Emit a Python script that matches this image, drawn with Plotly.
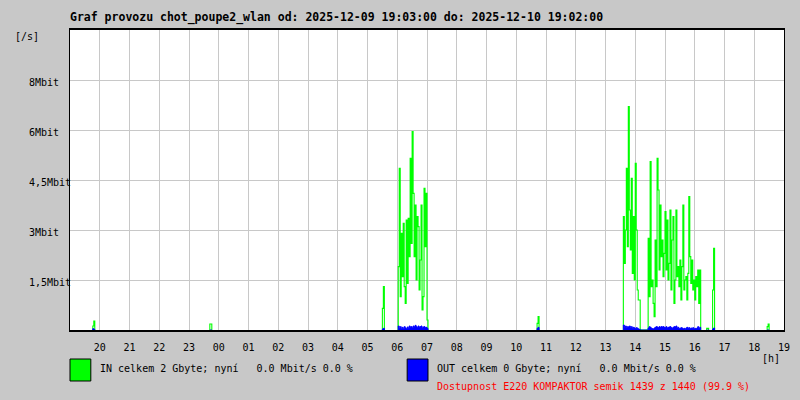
import pandas as pd
import plotly.graph_objects as go

TITLE = "Graf provozu chot_poupe2_wlan od: 2025-12-09 19:03:00 do: 2025-12-10 19:02:00"
DAY1 = "2025-12-09"
DAY2 = "2025-12-10"
RANGE_START = "2025-12-09 19:00"
RANGE_END = "2025-12-10 19:00"
SAMPLE = "2min"

HOUR_LABELS = ["20", "21", "22", "23", "00", "01", "02", "03", "04", "05", "06", "07",
               "08", "09", "10", "11", "12", "13", "14", "15", "16", "17", "18", "19"]
Y_TICKS = [1.5, 3, 4.5, 6, 7.5]
Y_LABELS = ["1,5Mbit", "3Mbit", "4,5Mbit", "6Mbit", "8Mbit"]
Y_MAX = 9

# traffic bursts in Mbit/s, 2-minute samples, (clock time of first sample)
B1_START = "19:46"
B1_IN = [0.12, 0.27]
B1_OUT = [0.04, 0.02]

B2_START = "23:42"
B2_IN = [0.18, 0.18]
B2_OUT = [0.0, 0.0]

B3_START = "05:30"
B3_IN = [0.65, 1.3]
B3_OUT = [0.03, 0.05]

B4_START = "06:02"
B4_IN = [1.9, 4.85, 1.0, 2.9, 1.6, 3.2, 1.3, 0.8, 3.3, 1.4, 3.35, 2.2, 5.15, 2.6, 5.95,
         4.1, 2.2, 3.75, 1.5, 3.4, 3.1, 1.2, 2.1, 3.75, 0.6, 1.0, 4.25, 2.5, 4.1, 0.3]
B4_OUT = [0.12, 0.05, 0.1, 0.03, 0.08, 0.04, 0.1, 0.06, 0.03, 0.09, 0.05, 0.12, 0.08, 0.1, 0.06,
          0.12, 0.09, 0.14, 0.1, 0.07, 0.12, 0.08, 0.1, 0.12, 0.06, 0.09, 0.1, 0.07, 0.08, 0.05]

B5_START = "10:42"
B5_IN = [0.2, 0.4]
B5_OUT = [0.05, 0.08]

B6_START = "13:36"
B6_IN = [3.4, 2.0, 3.0, 4.85, 2.5, 6.7, 3.6, 2.4, 4.55, 1.7, 3.4, 1.5, 5.0, 3.0, 1.2, 0.9, 0.9,
         0, 0, 0, 0, 0, 0, 0, 0,
         2.75, 1.0, 5.05, 1.3, 1.5, 0.8, 0.4, 2.7, 1.3, 5.15, 4.2, 1.8, 3.75, 2.2, 2.7,
         1.6, 2.3, 3.55, 1.8, 3.3, 1.5, 2.0, 3.6, 1.2, 2.7, 3.4, 0.8, 1.5, 3.6, 1.6,
         1.9, 1.3, 2.1, 0.9, 1.9, 3.75, 1.2, 1.5, 1.6, 0.9, 1.7, 4.0, 2.2, 1.4, 2.1,
         1.2, 1.5, 0.9, 1.6, 1.3, 1.8, 0.8, 1.8]
B6_OUT = [0.15, 0.08, 0.12, 0.06, 0.1, 0.09, 0.12, 0.07, 0.1, 0.05, 0.08, 0.06, 0.04, 0.07, 0.05, 0.03, 0.02,
          0, 0, 0, 0, 0, 0, 0, 0,
          0.06, 0.1, 0.08, 0.05, 0.04, 0.03, 0.06, 0.08, 0.1, 0.09, 0.07, 0.1, 0.08, 0.1, 0.09,
          0.1, 0.08, 0.07, 0.1, 0.06, 0.08, 0.09, 0.1, 0.07, 0.05, 0.08, 0.1, 0.09, 0.12, 0.06,
          0.08, 0.04, 0.05, 0.07, 0.06, 0.03, 0.05, 0.02, 0.06, 0.08, 0.05, 0.07, 0.04, 0.06, 0.05,
          0.07, 0.03, 0.05, 0.04, 0.06, 0.1, 0.05, 0.08]

B7_START = "16:24"
B7_IN = [0.05, 0.05]
B7_OUT = [0.0, 0.0]

B8_START = "16:36"
B8_IN = [1.2, 2.45]
B8_OUT = [0.03, 0.06]

B9_START = "18:26"
B9_IN = [0.1, 0.18]
B9_OUT = [0.0, 0.0]

BURSTS = [
    (B1_START, B1_IN, B1_OUT), (B2_START, B2_IN, B2_OUT), (B3_START, B3_IN, B3_OUT),
    (B4_START, B4_IN, B4_OUT), (B5_START, B5_IN, B5_OUT), (B6_START, B6_IN, B6_OUT),
    (B7_START, B7_IN, B7_OUT), (B8_START, B8_IN, B8_OUT), (B9_START, B9_IN, B9_OUT),
]

LEGEND_IN = "IN celkem 2 Gbyte; nyní\u00a0\u00a0\u00a00.0 Mbit/s 0.0 %"
LEGEND_OUT = "OUT celkem 0 Gbyte; nyní\u00a0\u00a0\u00a00.0 Mbit/s 0.0 %"
AVAIL = "Dostupnost E220 KOMPAKTOR semik 1439 z 1440 (99.9 %)"

IN_COLOR = "#00ff00"
OUT_COLOR = "#0000ff"
BG = "#c8c8c8"
GRID = "#c8c8c8"
FONT = "DejaVu Sans Mono"


def clock(hhmm):
    day = DAY1 if int(hhmm[:2]) >= 19 else DAY2
    return pd.Timestamp(f"{day} {hhmm}")


def series(index):
    xs, ys = [], []
    step = pd.Timedelta(SAMPLE)
    for start, vin, vout in BURSTS:
        vals = (vin, vout)[index]
        times = list(pd.date_range(clock(start), periods=len(vals), freq=SAMPLE))
        xs += [times[0]] + times + [times[-1] + step, None]
        ys += [0] + list(vals) + [0, None]
    return xs, ys


x_in, y_in = series(0)
x_out, y_out = series(1)

fig = go.Figure()
fig.add_trace(go.Scatter(x=x_in, y=y_in, mode="lines", line=dict(color=IN_COLOR, width=1.1, shape="hv"),
                         connectgaps=False, hoverinfo="skip"))
fig.add_trace(go.Scatter(x=x_out, y=y_out, mode="lines", line=dict(color=OUT_COLOR, width=1, shape="hv"),
                         fill="tozeroy", fillcolor=OUT_COLOR, connectgaps=False, hoverinfo="skip"))

tickvals = [pd.Timestamp(f"{DAY1 if int(h) >= 20 else DAY2} {h}:00") for h in HOUR_LABELS]

W, H = 800, 400
L, R, T, B = 70, 10, 30, 70
PW, PH = W - L - R, H - T - B


def px(xp):
    return (xp - L) / PW


def py(yp):
    return (T + PH - yp) / PH


annotations = []
for v, lab in zip(Y_TICKS, Y_LABELS):
    annotations.append(dict(text=lab, xref="paper", x=px(27), xanchor="left", yref="y", y=v,
                            yanchor="middle", yshift=-2, showarrow=False,
                            font=dict(family=FONT, size=10, color="black")))
annotations += [
    dict(text="[/s]", xref="paper", x=px(13), xanchor="left", yref="paper", y=py(37),
         yanchor="middle", showarrow=False, font=dict(family=FONT, size=10, color="black")),
    dict(text="[h]", xref="paper", x=px(766), xanchor="left", yref="paper", y=py(358),
         yanchor="middle", showarrow=False, font=dict(family=FONT, size=10, color="black")),
    dict(text=LEGEND_IN, xref="paper", x=px(98), xanchor="left", yref="paper", y=py(368),
         yanchor="middle", showarrow=False, font=dict(family=FONT, size=10, color="black")),
    dict(text=LEGEND_OUT, xref="paper", x=px(438), xanchor="left", yref="paper", y=py(368),
         yanchor="middle", showarrow=False, font=dict(family=FONT, size=10, color="black")),
    dict(text=AVAIL, xref="paper", x=px(438), xanchor="left", yref="paper", y=py(386),
         yanchor="middle", showarrow=False, font=dict(family=FONT, size=10, color="#ff0000")),
    dict(text=f"<b>{TITLE}</b>", xref="paper", x=px(68), xanchor="left", yref="paper", y=py(18),
         yanchor="middle", showarrow=False, font=dict(family=FONT, size=11.5, color="black")),
]

shapes = [
    dict(type="rect", xref="paper", yref="paper", x0=px(70), x1=px(91), y0=py(381), y1=py(359),
         fillcolor=IN_COLOR, line=dict(color="black", width=1)),
    dict(type="rect", xref="paper", yref="paper", x0=px(410), x1=px(431), y0=py(381), y1=py(359),
         fillcolor=OUT_COLOR, line=dict(color="black", width=1)),
]

fig.update_layout(
    width=W, height=H, margin=dict(l=L, r=R, t=T, b=B),
    paper_bgcolor=BG, plot_bgcolor="white", showlegend=False,
    annotations=annotations, shapes=shapes,
    xaxis=dict(type="date", range=[RANGE_START, RANGE_END], tickvals=tickvals, ticktext=HOUR_LABELS,
               showgrid=True, gridcolor=GRID, gridwidth=1, showline=True, linecolor="black",
               linewidth=2, mirror=True, ticks="", ticklabelstandoff=7, zeroline=False,
               tickfont=dict(family=FONT, size=10, color="black"), fixedrange=True),
    yaxis=dict(range=[0, Y_MAX], tickvals=Y_TICKS, showticklabels=False, showgrid=True,
               gridcolor=GRID, gridwidth=1, showline=True, linecolor="black", linewidth=1,
               mirror=True, ticks="", zeroline=False, fixedrange=True),
)

fig.write_html("out.html", config={"displayModeBar": False},
               post_script="document.body.style.margin='0';document.body.style.background='%s';" % BG)
